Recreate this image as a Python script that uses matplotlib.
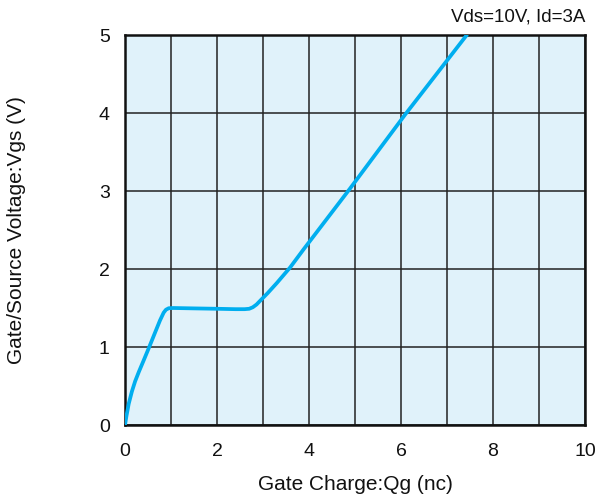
import matplotlib
matplotlib.use("Agg")
import matplotlib.pyplot as plt
import numpy as np

plt.rcParams['font.family'] = ['Liberation Sans', 'DejaVu Sans']

qg = [0.0, 0.03, 0.08, 0.15, 0.22, 0.30, 0.40, 0.52, 0.65, 0.76, 0.84, 0.89, 0.95, 1.05,
      1.5, 2.0, 2.4, 2.6, 2.7, 2.78, 2.86, 2.95, 3.1, 3.3, 3.59, 3.88,
      4.89, 6.09, 7.43]
vgs = [0.0, 0.11, 0.27, 0.43, 0.56, 0.68, 0.82, 0.99, 1.18, 1.34, 1.44, 1.478, 1.497, 1.50,
       1.495, 1.49, 1.485, 1.485, 1.49, 1.51, 1.545, 1.60, 1.69, 1.82, 2.02, 2.25,
       3.03, 3.98, 5.0]

xticks = [0, 2, 4, 6, 8, 10]
yticks = [0, 1, 2, 3, 4, 5]

fig = plt.figure(figsize=(5.97, 4.99), dpi=100)
ax = fig.add_axes([125/597, 1-425/499, 460/597, 390/499])
ax.set_facecolor('#e0f2fa')
ax.set_xlim(0, 10)
ax.set_ylim(0, 5)
ax.set_xticks(np.arange(0, 11, 1), minor=True)
ax.set_xticks(xticks)
ax.set_yticks(yticks)
ax.grid(True, which='both', color='#222222', linewidth=1.1)
ax.tick_params(which='both', length=0, labelsize=14, colors='#111111')
ax.tick_params(axis='x', pad=13)
ax.tick_params(axis='y', pad=11)
for s in ax.spines.values():
    s.set_linewidth(1.8)
    s.set_color('#111111')
ax.set_axisbelow(True)
ax.plot(qg, vgs, color='#00aeef', linewidth=2.7, solid_capstyle='round',
        solid_joinstyle='round', zorder=3)
ax.set_xlabel('Gate Charge:Qg (nc)', fontsize=15, labelpad=11, color='#111111')
ax.set_ylabel('Gate/Source Voltage:Vgs (V)', fontsize=15, color='#111111')
ax.yaxis.set_label_coords(-(125-26)/460, 0.5)
fig.text(585/597, 1-17/499, 'Vds=10V, Id=3A', ha='right', va='center', fontsize=13.5, color='#111111')
fig.savefig('out.png', dpi=100)
